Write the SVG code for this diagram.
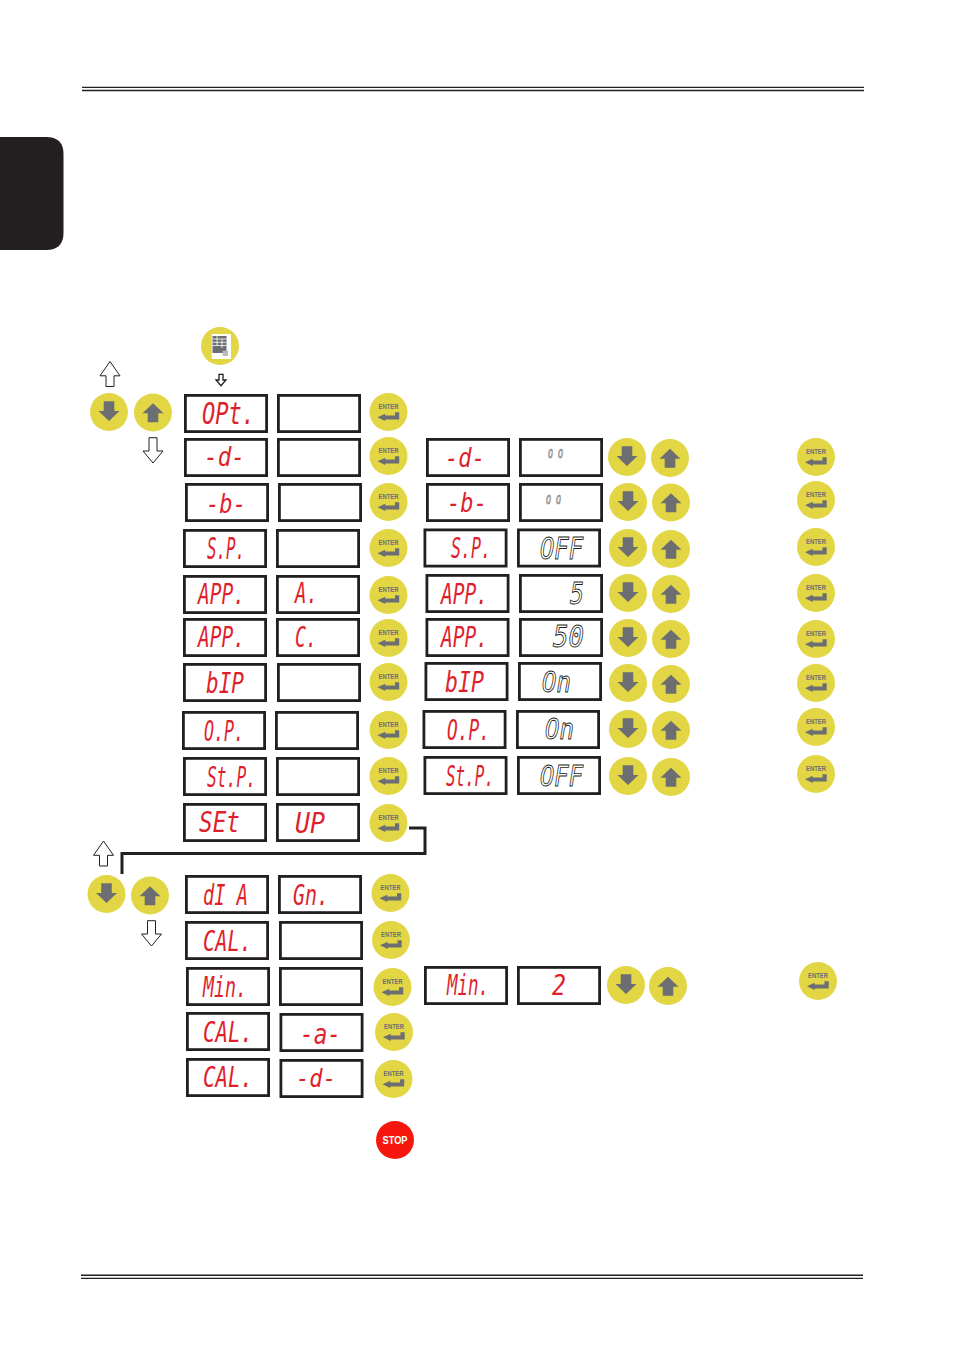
<svg xmlns="http://www.w3.org/2000/svg" width="954" height="1350" viewBox="0 0 954 1350">
<style>
.rule{stroke:#231f20;stroke-width:1.4;fill:none}
.box{fill:#fff;stroke:#231f20;stroke-width:2.8}
.wire{fill:none;stroke:#231f20;stroke-width:3}
.hollow{fill:#fff;stroke:#231f20;stroke-width:1}
.disc{fill:#e2d645}
.glyph{fill:#6d6e71}
.key{font-family:"Liberation Sans",Arial,sans-serif;font-weight:700;font-size:7.6px;fill:#6d6e71;text-anchor:middle}
.seg,.out{font-family:"DejaVu Sans Mono",monospace;font-style:italic;font-weight:400}
.seg{fill:#e01f2d}
.out{fill:#fff;stroke:#231f20;stroke-width:.9}
.tiny{stroke-width:.5}
.stop{font-family:"Liberation Sans",Arial,sans-serif;font-weight:700;font-size:11px;fill:#fff;text-anchor:middle}
</style>
<defs>
<g id="enter-key"><circle class="disc" r="19"/><path class="glyph" d="M-11 5.3L-3.3 1.7V3.5H6.5V.3H10.7V7.5H-3.3V9Z"/></g>
<g id="down-key"><circle class="disc" r="19"/><path class="glyph" d="M-5.3-10.7H5.3V-1H10.5L0 9-10.5-1H-5.3Z"/></g>
<g id="up-key"><circle class="disc" r="19"/><path class="glyph" d="M0-9.3L10.5 .7H5.3V9.7H-5.3V.7H-10.5Z"/></g>
<rect id="frame" class="box" x="1.4" y="1.4" width="81.2" height="36.2"/>
<path id="arrow-up" class="hollow" d="M0 0L10 14.300H4V25H-4V14.300H-10Z"/>
<path id="arrow-down" class="hollow" d="M-4 0H4V13.300H10L0 25.300-10 13.300H-4Z"/>
</defs>

<g id="page">
<path class="rule" d="M82 87.400H864M82 90.500H864M81 1275.300H863M81 1278.400H863"/>
<path id="side-tab" fill="#231f20" d="M0 137H46Q63.500 137 63.500 154V233Q63.500 250 46 250H0Z"/>
</g>

<g id="connectors">
<path class="wire" d="M409 828H425V853.500H122V874"/>
<use href="#arrow-up" x="110" y="361.500"/>
<use href="#arrow-down" x="153" y="437.700"/>
<path class="hollow" d="M219 374.300H223V380H226L221 385.700 216 380H219Z" style="stroke-width:1.300"/>
<use href="#arrow-up" x="103.500" y="841"/>
<use href="#arrow-down" x="151.500" y="920.700"/>
</g>

<g id="menu-key">
<circle class="disc" cx="220" cy="346" r="19"/>
<rect x="211.700" y="334" width="19.300" height="25" fill="#fff"/>
<rect x="212.500" y="336" width="14" height="17" fill="#6d6e71"/>
<path d="M212.500 339H226.500M212.500 342.300H226.500M212.500 345.500H226.500M217 336V345.500M222 339V348" stroke="#fff" stroke-width=".8" fill="none"/>
<rect x="222.700" y="350.700" width="5.300" height="5.300" fill="#b9babc"/>
</g>

<g id="nav-top"><use href="#down-key" x="109" y="412"/><use href="#up-key" x="153" y="412.500"/></g>
<g id="nav-setup"><use href="#down-key" x="106.500" y="894"/><use href="#up-key" x="150" y="895.500"/></g>

<!-- left column: name display, value display, confirm key -->
<g id="row-opt">
<use href="#frame" x="184" y="394"/><text class="seg" x="202" y="424" font-size="30" textLength="53" lengthAdjust="spacingAndGlyphs">OPt.</text>
<use href="#frame" x="277" y="394"/>
<use href="#enter-key" x="388.500" y="412"/><text class="key" x="388.500" y="409" textLength="20" lengthAdjust="spacingAndGlyphs">ENTER</text>
</g>
<g id="row-d">
<use href="#frame" x="184" y="438"/><text class="seg" x="204" y="466" font-size="26" textLength="41" lengthAdjust="spacingAndGlyphs">-d-</text>
<use href="#frame" x="277" y="438"/>
<use href="#enter-key" x="388.500" y="456"/><text class="key" x="388.500" y="453" textLength="20" lengthAdjust="spacingAndGlyphs">ENTER</text>
</g>
<g id="row-b">
<use href="#frame" x="185" y="483"/><text class="seg" x="206" y="513" font-size="26" textLength="40" lengthAdjust="spacingAndGlyphs">-b-</text>
<use href="#frame" x="278" y="483"/>
<use href="#enter-key" x="388.500" y="502"/><text class="key" x="388.500" y="499" textLength="20" lengthAdjust="spacingAndGlyphs">ENTER</text>
</g>
<g id="row-sp">
<use href="#frame" x="183" y="529"/><text class="seg" x="207" y="559" font-size="30" textLength="38" lengthAdjust="spacingAndGlyphs">S.P.</text>
<use href="#frame" x="276" y="529"/>
<use href="#enter-key" x="388.500" y="548"/><text class="key" x="388.500" y="545" textLength="20" lengthAdjust="spacingAndGlyphs">ENTER</text>
</g>
<g id="row-app-a">
<use href="#frame" x="183" y="575"/><text class="seg" x="198" y="604" font-size="28" textLength="47" lengthAdjust="spacingAndGlyphs">APP.</text>
<use href="#frame" x="276" y="575"/><text class="seg" x="295" y="603" font-size="28" textLength="23" lengthAdjust="spacingAndGlyphs">A.</text>
<use href="#enter-key" x="388.500" y="595"/><text class="key" x="388.500" y="592" textLength="20" lengthAdjust="spacingAndGlyphs">ENTER</text>
</g>
<g id="row-app-c">
<use href="#frame" x="183" y="618"/><text class="seg" x="198" y="647" font-size="28" textLength="47" lengthAdjust="spacingAndGlyphs">APP.</text>
<use href="#frame" x="276" y="618"/><text class="seg" x="295" y="647" font-size="28" textLength="22" lengthAdjust="spacingAndGlyphs">C.</text>
<use href="#enter-key" x="388.500" y="638"/><text class="key" x="388.500" y="635" textLength="20" lengthAdjust="spacingAndGlyphs">ENTER</text>
</g>
<g id="row-bip">
<use href="#frame" x="183" y="663"/><text class="seg" x="206" y="693" font-size="28" textLength="38" lengthAdjust="spacingAndGlyphs">bIP</text>
<use href="#frame" x="277" y="663"/>
<use href="#enter-key" x="388.500" y="682"/><text class="key" x="388.500" y="679" textLength="20" lengthAdjust="spacingAndGlyphs">ENTER</text>
</g>
<g id="row-op">
<use href="#frame" x="182" y="711"/><text class="seg" x="204" y="741" font-size="29" textLength="40" lengthAdjust="spacingAndGlyphs">O.P.</text>
<use href="#frame" x="275" y="711"/>
<use href="#enter-key" x="388.500" y="730"/><text class="key" x="388.500" y="727" textLength="20" lengthAdjust="spacingAndGlyphs">ENTER</text>
</g>
<g id="row-stp">
<use href="#frame" x="183" y="757"/><text class="seg" x="207" y="787" font-size="28" textLength="49" lengthAdjust="spacingAndGlyphs">St.P.</text>
<use href="#frame" x="276" y="757"/>
<use href="#enter-key" x="388.500" y="776"/><text class="key" x="388.500" y="773" textLength="20" lengthAdjust="spacingAndGlyphs">ENTER</text>
</g>
<g id="row-setup">
<use href="#frame" x="183" y="803"/><text class="seg" x="199" y="832" font-size="29" textLength="41" lengthAdjust="spacingAndGlyphs">SEt</text>
<use href="#frame" x="276" y="803"/><text class="seg" x="295" y="833" font-size="29" textLength="30" lengthAdjust="spacingAndGlyphs">UP</text>
<use href="#enter-key" x="388.500" y="823"/><text class="key" x="388.500" y="820" textLength="20" lengthAdjust="spacingAndGlyphs">ENTER</text>
</g>
<g id="row-dia">
<use href="#frame" x="185" y="875"/><text class="seg" x="203" y="905" font-size="29" textLength="45" lengthAdjust="spacingAndGlyphs">dI A</text>
<use href="#frame" x="278" y="875"/><text class="seg" x="293" y="905" font-size="29" textLength="36" lengthAdjust="spacingAndGlyphs">Gn.</text>
<use href="#enter-key" x="390.500" y="893"/><text class="key" x="390.500" y="890" textLength="20" lengthAdjust="spacingAndGlyphs">ENTER</text>
</g>
<g id="row-cal">
<use href="#frame" x="185" y="921"/><text class="seg" x="203" y="951" font-size="29" textLength="49" lengthAdjust="spacingAndGlyphs">CAL.</text>
<use href="#frame" x="279" y="921"/>
<use href="#enter-key" x="391" y="940"/><text class="key" x="391" y="937" textLength="20" lengthAdjust="spacingAndGlyphs">ENTER</text>
</g>
<g id="row-min">
<use href="#frame" x="186" y="967"/><text class="seg" x="203" y="997" font-size="28" textLength="44" lengthAdjust="spacingAndGlyphs">Min.</text>
<use href="#frame" x="279" y="967"/>
<use href="#enter-key" x="392.500" y="987"/><text class="key" x="392.500" y="984" textLength="20" lengthAdjust="spacingAndGlyphs">ENTER</text>
</g>
<g id="row-cal-a">
<use href="#frame" x="186" y="1012"/><text class="seg" x="203" y="1042" font-size="28" textLength="50" lengthAdjust="spacingAndGlyphs">CAL.</text>
<use href="#frame" x="279.500" y="1013"/><text class="seg" x="300" y="1044" font-size="28" textLength="41" lengthAdjust="spacingAndGlyphs">-a-</text>
<use href="#enter-key" x="394" y="1032"/><text class="key" x="394" y="1029" textLength="20" lengthAdjust="spacingAndGlyphs">ENTER</text>
</g>
<g id="row-cal-d">
<use href="#frame" x="186" y="1058"/><text class="seg" x="203" y="1087" font-size="28" textLength="50" lengthAdjust="spacingAndGlyphs">CAL.</text>
<use href="#frame" x="279.500" y="1059"/><text class="seg" x="296" y="1087" font-size="25" textLength="40" lengthAdjust="spacingAndGlyphs">-d-</text>
<use href="#enter-key" x="393.500" y="1079"/><text class="key" x="393.500" y="1076" textLength="20" lengthAdjust="spacingAndGlyphs">ENTER</text>
</g>
<g id="stop-key">
<circle cx="395" cy="1140" r="19" fill="#f5170d"/>
<text class="stop" x="395" y="1144" textLength="25" lengthAdjust="spacingAndGlyphs">STOP</text>
</g>

<!-- right column: name display, editable value, down/up keys, confirm key -->
<g id="edit-d">
<use href="#frame" x="426" y="438"/><text class="seg" x="445" y="467" font-size="26" textLength="40" lengthAdjust="spacingAndGlyphs">-d-</text>
<use href="#frame" x="519" y="438"/><text class="out tiny" x="548" y="458" font-size="12.500" textLength="15" lengthAdjust="spacingAndGlyphs">O O</text>
<use href="#down-key" x="627" y="457"/><use href="#up-key" x="670" y="458"/>
<use href="#enter-key" x="816" y="457"/><text class="key" x="816" y="454" textLength="20" lengthAdjust="spacingAndGlyphs">ENTER</text>
</g>
<g id="edit-b">
<use href="#frame" x="426" y="483"/><text class="seg" x="447" y="512" font-size="26" textLength="40" lengthAdjust="spacingAndGlyphs">-b-</text>
<use href="#frame" x="519" y="483"/><text class="out tiny" x="546" y="504" font-size="12.500" textLength="15" lengthAdjust="spacingAndGlyphs">O O</text>
<use href="#down-key" x="628" y="502"/><use href="#up-key" x="671" y="502.500"/>
<use href="#enter-key" x="816" y="500"/><text class="key" x="816" y="497" textLength="20" lengthAdjust="spacingAndGlyphs">ENTER</text>
</g>
<g id="edit-sp">
<use href="#frame" x="423.500" y="528.500"/><text class="seg" x="451" y="558" font-size="28" textLength="40" lengthAdjust="spacingAndGlyphs">S.P.</text>
<use href="#frame" x="517" y="528.500"/><text class="out" x="540" y="559" font-size="30" textLength="43" lengthAdjust="spacingAndGlyphs">OFF</text>
<use href="#down-key" x="628" y="548"/><use href="#up-key" x="671" y="549"/>
<use href="#enter-key" x="816" y="547"/><text class="key" x="816" y="544" textLength="20" lengthAdjust="spacingAndGlyphs">ENTER</text>
</g>
<g id="edit-app-a">
<use href="#frame" x="425.500" y="574"/><text class="seg" x="441" y="604" font-size="28" textLength="47" lengthAdjust="spacingAndGlyphs">APP.</text>
<use href="#frame" x="519" y="574"/><text class="out" x="570" y="604" font-size="30" textLength="14" lengthAdjust="spacingAndGlyphs">5</text>
<use href="#down-key" x="628" y="593"/><use href="#up-key" x="671" y="594"/>
<use href="#enter-key" x="816" y="593"/><text class="key" x="816" y="590" textLength="20" lengthAdjust="spacingAndGlyphs">ENTER</text>
</g>
<g id="edit-app-c">
<use href="#frame" x="425.500" y="618"/><text class="seg" x="441" y="647" font-size="28" textLength="47" lengthAdjust="spacingAndGlyphs">APP.</text>
<use href="#frame" x="519" y="618"/><text class="out" x="553" y="647" font-size="30" textLength="31" lengthAdjust="spacingAndGlyphs">50</text>
<use href="#down-key" x="628" y="638"/><use href="#up-key" x="671" y="639"/>
<use href="#enter-key" x="816" y="639"/><text class="key" x="816" y="636" textLength="20" lengthAdjust="spacingAndGlyphs">ENTER</text>
</g>
<g id="edit-bip">
<use href="#frame" x="424.500" y="662"/><text class="seg" x="445" y="692" font-size="28" textLength="39" lengthAdjust="spacingAndGlyphs">bIP</text>
<use href="#frame" x="518" y="662"/><text class="out" x="542" y="692" font-size="29" textLength="29" lengthAdjust="spacingAndGlyphs">On</text>
<use href="#down-key" x="628" y="683"/><use href="#up-key" x="671" y="684"/>
<use href="#enter-key" x="816" y="683"/><text class="key" x="816" y="680" textLength="20" lengthAdjust="spacingAndGlyphs">ENTER</text>
</g>
<g id="edit-op">
<use href="#frame" x="422.500" y="710"/><text class="seg" x="447" y="740" font-size="29" textLength="43" lengthAdjust="spacingAndGlyphs">O.P.</text>
<use href="#frame" x="516" y="710"/><text class="out" x="545" y="739" font-size="29" textLength="29" lengthAdjust="spacingAndGlyphs">On</text>
<use href="#down-key" x="628" y="729"/><use href="#up-key" x="671" y="730"/>
<use href="#enter-key" x="816" y="727"/><text class="key" x="816" y="724" textLength="20" lengthAdjust="spacingAndGlyphs">ENTER</text>
</g>
<g id="edit-stp">
<use href="#frame" x="423.500" y="756"/><text class="seg" x="446" y="786" font-size="28" textLength="48" lengthAdjust="spacingAndGlyphs">St.P.</text>
<use href="#frame" x="517" y="756"/><text class="out" x="540" y="786" font-size="29" textLength="43" lengthAdjust="spacingAndGlyphs">OFF</text>
<use href="#down-key" x="628" y="776"/><use href="#up-key" x="671" y="777"/>
<use href="#enter-key" x="816" y="774"/><text class="key" x="816" y="771" textLength="20" lengthAdjust="spacingAndGlyphs">ENTER</text>
</g>
<g id="edit-min">
<use href="#frame" x="424" y="966"/><text class="seg" x="447" y="995" font-size="28" textLength="42" lengthAdjust="spacingAndGlyphs">Min.</text>
<use href="#frame" x="517" y="966"/><text class="seg" x="552" y="995" font-size="28" textLength="14" lengthAdjust="spacingAndGlyphs">2</text>
<use href="#down-key" x="626" y="985"/><use href="#up-key" x="668" y="986"/>
<use href="#enter-key" x="818" y="981"/><text class="key" x="818" y="978" textLength="20" lengthAdjust="spacingAndGlyphs">ENTER</text>
</g>
</svg>
